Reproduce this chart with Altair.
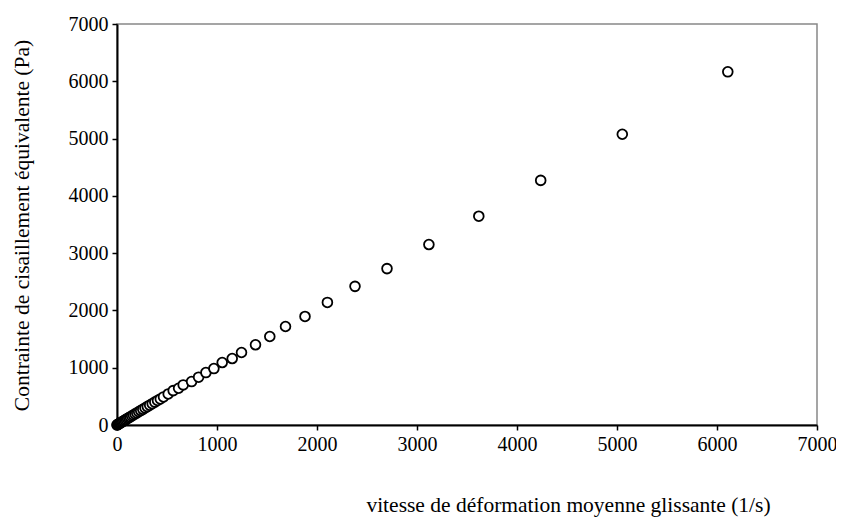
import altair as alt
import pandas as pd

shear_rate = [0, 3, 8, 14, 21, 29, 38, 47, 57, 68, 80, 92, 105, 118, 132, 147,
              163, 180, 198, 217, 237, 258, 280, 303, 327, 352, 378, 405, 433,
              465, 512, 562, 616, 662, 746, 816, 889, 969, 1052, 1152, 1245,
              1385, 1528, 1685, 1880, 2104, 2380, 2700, 3119, 3618, 4237, 5053, 6108]
shear_stress = [0, 3, 9, 15, 23, 31, 41, 51, 61, 73, 86, 99, 113, 126, 141, 157,
                174, 192, 211, 231, 252, 274, 297, 321, 346, 372, 400, 428, 455,
                490, 542, 600, 642, 700, 758, 835, 915, 985, 1090, 1160, 1265,
                1400, 1545, 1720, 1895, 2140, 2420, 2730, 3150, 3645, 4270, 5075, 6165]
ticks = [0, 1000, 2000, 3000, 4000, 5000, 6000, 7000]

df = pd.DataFrame({"x": shear_rate, "y": shear_stress})

FONT = "Liberation Serif"

chart = alt.Chart(df).mark_point(
    shape="circle", filled=True, fill="white", stroke="black",
    strokeWidth=1.8, size=95, opacity=1
).encode(
    x=alt.X("x:Q", scale=alt.Scale(domain=[0, 7000], nice=False),
            axis=alt.Axis(values=ticks, format="d",
                          title="vitesse de déformation moyenne glissante (1/s)",
                          titleX=451, titleY=80, titleBaseline="middle")),
    y=alt.Y("y:Q", scale=alt.Scale(domain=[0, 7000], nice=False),
            axis=alt.Axis(values=ticks, format="d",
                          title="Contrainte de cisaillement équivalente (Pa)",
                          titleX=-95, titleY=201, titleBaseline="middle")),
).properties(
    width=700, height=401,
    autosize=alt.AutoSizeParams(type="none"),
    padding={"left": 109, "top": 16, "right": 19, "bottom": 95},
).configure_view(
    stroke="#888888", strokeWidth=1.5
).configure_axis(
    grid=False, domainColor="black", domainWidth=2, tickColor="black",
    tickWidth=1.5, tickSize=5, labelFont=FONT, labelFontSize=20,
    labelColor="black", titleFont=FONT, titleFontSize=21.5,
    titleFontWeight="normal", titleColor="black", labelPadding=4,
    labelFlush=False, labelOverlap=False
)

chart.save("out.html", embed_options={"renderer": "svg", "actions": False})
